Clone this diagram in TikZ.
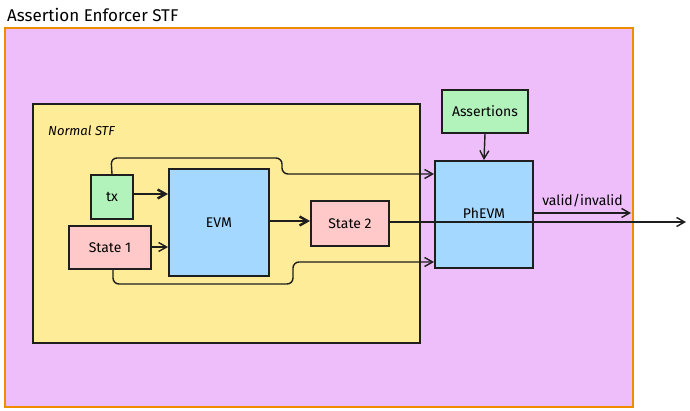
\documentclass[tikz,border=0pt]{standalone}
\usepackage{fontspec}
\setmainfont{Fira Sans}
\usetikzlibrary{arrows.meta}
\definecolor{outerfill}{HTML}{EEBEFA}
\definecolor{outerdraw}{HTML}{F08C00}
\definecolor{yellowfill}{HTML}{FFEC99}
\definecolor{greenfill}{HTML}{B2F2BB}
\definecolor{pinkfill}{HTML}{FFC9C9}
\definecolor{bluefill}{HTML}{A5D8FF}
\definecolor{ink}{HTML}{1E1E1E}
\tikzset{
  box/.style={draw=ink, line width=2pt, font=\fontsize{14}{16}\selectfont, inner sep=0pt, anchor=north west},
  conn/.style={draw=ink, line width=1.4pt, -{Straight Barb[length=8pt,width=9pt]}},
  thickconn/.style={draw=ink, line width=2.4pt, -{Straight Barb[length=8pt,width=9pt]}},
}
\begin{document}
\begin{tikzpicture}[x=1pt,y=-1pt]
\useasboundingbox (0,0) rectangle (690,410);
% outer
\node[draw=outerdraw, fill=outerfill, line width=2pt, minimum width=628pt, minimum height=379pt, anchor=north west, inner sep=0pt] (outer) at (4,27) {};
\node[anchor=west, font=\fontsize{17}{19}\selectfont, inner sep=0pt] (title) at (7,15) {Assertion Enforcer STF};
% normal STF
\node[draw=ink, fill=yellowfill, line width=2pt, minimum width=387pt, minimum height=239pt, anchor=north west, inner sep=0pt] (normal) at (32,103) {};
\node[anchor=west, font=\itshape\fontsize{13}{15}\selectfont, inner sep=0pt] (normallabel) at (48,131) {Normal STF};
% boxes
\node[box, fill=greenfill, minimum width=42pt, minimum height=44pt] (tx) at (90,174) {tx};
\node[box, fill=pinkfill, minimum width=82pt, minimum height=43pt] (s1) at (68,225) {State 1};
\node[box, fill=bluefill, minimum width=100pt, minimum height=107pt] (evm) at (168,168) {EVM};
\node[box, fill=pinkfill, minimum width=78pt, minimum height=45pt] (s2) at (310,200) {State 2};
\node[box, fill=greenfill, minimum width=86pt, minimum height=43pt] (asrt) at (441,89) {Assertions};
\node[box, fill=bluefill, minimum width=98pt, minimum height=107pt] (phevm) at (434,160) {};
\node[font=\fontsize{14}{16}\selectfont, inner sep=0pt] (phevmlabel) at (484,213) {PhEVM};
\coordinate (outend) at (686,222);
\coordinate (validend) at (631,213);
% connectors
\draw[thickconn] (tx.east |- 0,194) -- (evm.west |- 0,194);
\draw[conn] (s1.east |- 0,247) -- (evm.west |- 0,247);
\draw[thickconn] (evm.east |- 0,221) -- (s2.west |- 0,221);
\draw[conn] (asrt.south) -- (phevm.north);
\draw[conn, rounded corners=6pt] (tx.north) -- (111,158) -- (282,158) -- (282,174) -- (phevm.west |- 0,174);
\draw[conn, rounded corners=6pt] (s1.south -| 113,0) -- (113,284) -- (293,284) -- (293,262) -- (phevm.west |- 0,262);
\draw[conn] (s2.east |- 0,222) -- (outend);
\draw[conn] (phevm.east |- 0,213) -- node[above=5pt, font=\fontsize{14}{16}\selectfont, inner sep=0pt] (validlabel) {valid/invalid} (validend);
\end{tikzpicture}
\end{document}
